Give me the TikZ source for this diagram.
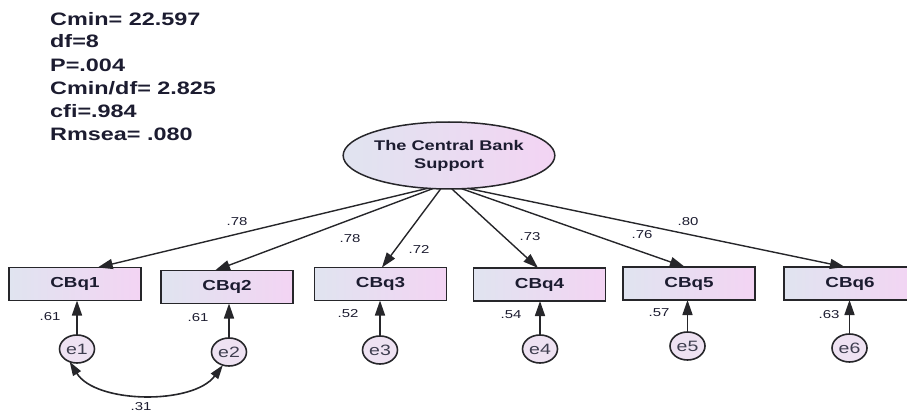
\documentclass[tikz,border=0pt]{standalone}
\usepackage{fontspec}
\setmainfont{Liberation Sans}
\newfontfamily\widesans[FakeStretch=1.3]{Liberation Sans}
\usetikzlibrary{arrows.meta,shapes.geometric}

\definecolor{inkline}{RGB}{38,38,42}
\definecolor{inktext}{RGB}{28,28,48}
\definecolor{shadeL}{RGB}{224,228,240}
\definecolor{shadeR}{RGB}{243,212,243}
\definecolor{errfill}{RGB}{238,226,242}

\begin{document}
\begin{tikzpicture}[x=1pt,y=-1pt,
  obs/.style={draw=inkline, line width=1.9pt, left color=shadeL, right color=shadeR,
    minimum width=132pt, minimum height=33pt, inner sep=0pt, outer sep=0pt,
    font=\widesans\bfseries\fontsize{14.5}{16}\selectfont, text=inktext},
  lat/.style={ellipse, draw=inkline, line width=1.5pt, left color=shadeL, right color=shadeR,
    minimum width=176pt, minimum height=67pt, inner sep=0pt, outer sep=0pt, align=center,
    font=\widesans\bfseries\fontsize{14}{18}\selectfont, text=inktext},
  err/.style={ellipse, draw=inkline, line width=1.6pt, fill=errfill,
    minimum width=35pt, minimum height=28pt, inner sep=0pt, outer sep=0pt,
    font=\widesans\fontsize{15}{17}\selectfont, text=inktext!85},
  load/.style={draw=inkline, line width=1.4pt, -{Triangle[length=15pt,width=10pt]}},
  errarrow/.style={draw=inkline, line width=1.6pt, -{Triangle[length=15pt,width=10pt]}},
  covarrow/.style={draw=inkline, line width=1.6pt,
    {Triangle[length=14pt,width=9pt]}-{Triangle[length=14pt,width=9pt]}},
  coef/.style={font=\widesans\fontsize{11.5}{13}\selectfont, text=inktext, inner sep=0pt},
  fit/.style={anchor=base west, inner sep=0pt, text=inktext,
    font=\widesans\bfseries\fontsize{18}{20}\selectfont}
]
\useasboundingbox (0,0) rectangle (907,414);
\clip (0,0) rectangle (907,414);

% model fit summary
\node[fit] (f1) at (50,26) {Cmin= 22.597};
\node[fit] (f2) at (50,48) {df=8};
\node[fit] (f3) at (50,72) {P=.004};
\node[fit] (f4) at (50,95) {Cmin/df= 2.825};
\node[fit] (f5) at (50,118) {cfi=.984};
\node[fit] (f6) at (50,141) {Rmsea= .080};

% latent factor
\node[lat] (lat) at (449,155.5) {The Central Bank\\Support};

% indicators
\node[obs] (cbq1) at (75,284) {CBq1};
\node[obs] (cbq2) at (227,287) {CBq2};
\node[obs] (cbq3) at (380.5,284) {CBq3};
\node[obs] (cbq4) at (539.5,284.5) {CBq4};
\node[obs] (cbq5) at (689,283.5) {CBq5};
\node[obs] (cbq6) at (850,283.5) {CBq6};

% error terms
\node[err] (e1) at (77,349) {e1};
\node[err] (e2) at (229,352) {e2};
\node[err] (e3) at (380,350) {e3};
\node[err] (e4) at (540,349) {e4};
\node[err] (e5) at (687.5,346) {e5};
\node[err] (e6) at (849.5,348) {e6};

% factor loadings
\draw[load] (lat.237) -- (cbq1.36);
\draw[load] (lat.244) -- (cbq2.126);
\draw[load] (lat.256) -- (cbq3.85);
\draw[load] (lat.275) -- (cbq4.95);
\draw[load] (lat.291) -- (cbq5.104);
\draw[load] (lat.300) -- (cbq6.107);

\node[coef] (l1) at (237,222) {.78};
\node[coef] (l2) at (350,239) {.78};
\node[coef] (l3) at (419,249) {.72};
\node[coef] (l4) at (530,237) {.73};
\node[coef] (l5) at (642,235) {.76};
\node[coef] (l6) at (688,222) {.80};

% error paths
\draw[errarrow] (e1.north) -- (e1.north |- cbq1.south);
\draw[errarrow] (e2.north) -- (e2.north |- cbq2.south);
\draw[errarrow] (e3.north) -- (e3.north |- cbq3.south);
\draw[errarrow] (e4.north) -- (e4.north |- cbq4.south);
\draw[errarrow] (e5.north) -- (e5.north |- cbq5.south);
\draw[errarrow] (e6.north) -- (e6.north |- cbq6.south);

\node[coef] (r1) at (50,317) {.61};
\node[coef] (r2) at (198,318) {.61};
\node[coef] (r3) at (348,314) {.52};
\node[coef] (r4) at (511,315) {.54};
\node[coef] (r5) at (659,313) {.57};
\node[coef] (r6) at (829,315) {.63};

% error covariance
\draw[covarrow] (e1.240) .. controls +(26,42) and +(-30,40) .. (e2.245);
\node[coef] (c12) at (141,407) {.31};
\end{tikzpicture}
\end{document}
